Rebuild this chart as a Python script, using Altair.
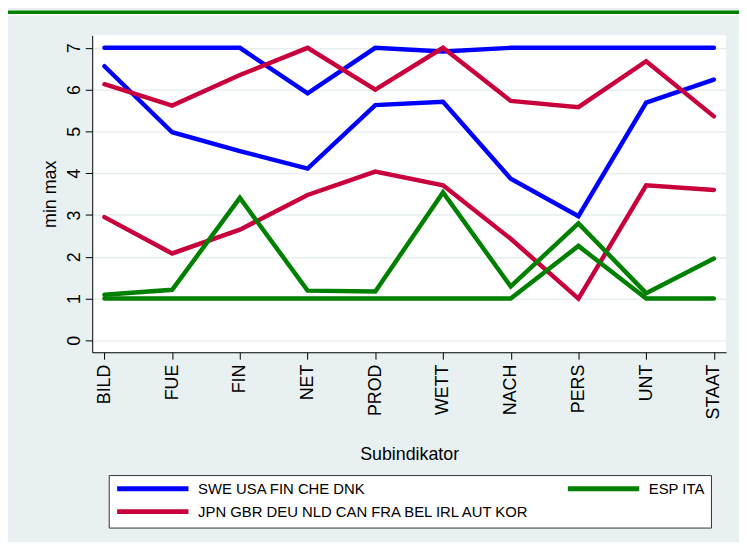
import altair as alt
import pandas as pd

categories = ["BILD", "FUE", "FIN", "NET", "PROD", "WETT", "NACH", "PERS", "UNT", "STAAT"]
# legend order (column-major, 2 columns): blue, red | green
groups = ["SWE USA FIN CHE DNK", "JPN GBR DEU NLD CAN FRA BEL IRL AUT KOR", "ESP ITA"]
colors = ["#0000FF", "#C8003C", "#008000"]

blue_max = [7.0, 7.0, 7.0, 5.91, 7.0, 6.91, 7.0, 7.0, 7.0, 7.0]
blue_min = [6.56, 4.98, 4.53, 4.11, 5.63, 5.71, 3.87, 2.97, 5.69, 6.24]
red_max = [6.13, 5.62, 6.35, 7.0, 6.0, 7.0, 5.73, 5.58, 6.68, 5.36]
red_min = [2.95, 2.08, 2.65, 3.48, 4.04, 3.71, 2.43, 1.0, 3.71, 3.60]
green_max = [1.09, 1.21, 3.41, 1.19, 1.17, 3.54, 1.29, 2.80, 1.13, 1.96]
green_min = [1.0, 1.0, 1.0, 1.0, 1.0, 1.0, 1.0, 2.26, 1.0, 1.0]

series = [
    (groups[0], "max", blue_max),
    (groups[0], "min", blue_min),
    (groups[1], "max", red_max),
    (groups[1], "min", red_min),
    (groups[2], "max", green_max),
    (groups[2], "min", green_min),
]
rows = []
for g, s, vals in series:
    for i, (c, v) in enumerate(zip(categories, vals)):
        rows.append({"cat": c, "idx": i, "group": g, "stat": s, "value": v})
df = pd.DataFrame(rows)

W, H = 738, 534
PL, PT = 85, 25
PW, PH = 640, 320

one = pd.DataFrame({"a": [0]})

top_white = alt.Chart(one).mark_rect(fill="white").encode(
    x=alt.value(-PL), x2=alt.value(W - PL), y=alt.value(-PT), y2=alt.value(-PT + 5)
)
green_bar = alt.Chart(one).mark_rect(fill="#008000").encode(
    x=alt.value(-PL), x2=alt.value(W - PL), y=alt.value(-PT), y2=alt.value(-PT + 3.5)
)

lines = alt.Chart(df).mark_line(strokeWidth=4.5, strokeCap="round").encode(
    x=alt.X(
        "cat:N",
        sort=categories,
        scale=alt.Scale(type="point", padding=0.181),
        axis=alt.Axis(
            title="Subindikator",
            labelAngle=270,
            labelAlign="right",
            labelBaseline="middle",
            labelPadding=5,
            labelFontSize=18,
            tickSize=7,
            grid=False,
            titleFontSize=18,
            titleFontWeight="normal",
            titleBaseline="alphabetic",
            titleAlign="center",
            titleX=PW / 2,
            titleY=108.7,
        ),
    ),
    y=alt.Y(
        "value:Q",
        scale=alt.Scale(domain=[-0.284, 7.30], nice=False, zero=False),
        axis=alt.Axis(
            title="min max",
            values=list(range(8)),
            format="d",
            labelAngle=270,
            labelAlign="center",
            labelBaseline="alphabetic",
            labelPadding=6,
            labelFontSize=18,
            tickSize=7,
            grid=True,
            gridColor="#E6EEF0",
            gridWidth=1.5,
            titleFontSize=18,
            titleFontWeight="normal",
            titleAngle=270,
            titleBaseline="alphabetic",
            titleAlign="center",
            titleX=-36.6,
            titleY=PH / 2,
        ),
    ),
    color=alt.Color(
        "group:N",
        scale=alt.Scale(domain=groups, range=colors),
        legend=alt.Legend(
            title=None,
            orient="none",
            direction="vertical",
            legendX=16.7,
            legendY=444,
            columns=2,
            symbolType="M-7.2,0H7.2",
            symbolSize=100,
            symbolOffset=31,
            symbolStrokeWidth=5,
            symbolFillColor="transparent",
            labelFontSize=15,
            labelOffset=38.2,
            labelLimit=0,
            padding=6,
            rowPadding=2.4,
            columnPadding=26,
            strokeColor="#333333",
            fillColor="white",
            labelColor="#000000",
        ),
    ),
    detail="stat:N",
    order=alt.Order("idx:Q"),
)

chart = alt.layer(top_white, green_bar, lines).properties(
    width=PW,
    height=PH,
    padding={"left": PL, "top": PT, "right": W - PL - PW, "bottom": H - PT - PH},
    autosize=alt.AutoSizeParams(type="none"),
).configure(
    font="Liberation Sans",
    background="#E8F0F2",
).configure_view(
    stroke=None, fill="white"
).configure_axis(
    domainColor="#000000",
    tickColor="#000000",
    labelColor="#000000",
    titleColor="#000000",
    domainWidth=1,
    tickWidth=1,
)

chart.save("out.html", embed_options={"renderer": "svg", "actions": False})
